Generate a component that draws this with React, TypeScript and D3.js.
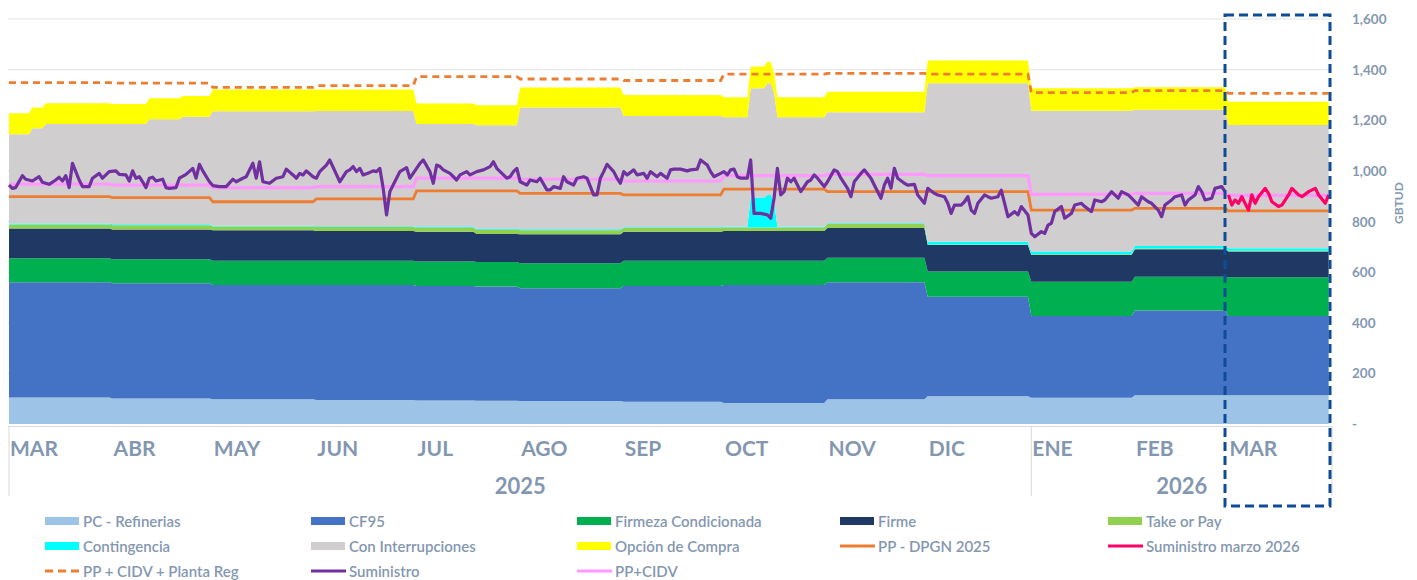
import React from "react";
import * as d3 from "d3";

// ---------- DATA ----------
const periodStarts = [
  "2025-03-01", "2025-03-08", "2025-03-12", "2025-04-01", "2025-04-12", "2025-04-22",
  "2025-05-01", "2025-06-01", "2025-07-01", "2025-07-19", "2025-08-01", "2025-09-01",
  "2025-10-01", "2025-10-09", "2025-10-14", "2025-10-16", "2025-10-17", "2025-11-01",
  "2025-12-01", "2026-01-01", "2026-02-01", "2026-03-01",
];
const lastDay = "2026-03-31";

const pcRefinerias = [105, 105, 105, 101, 101, 101, 98, 95, 93, 92, 91, 88, 83, 83, 83, 83, 83, 98, 110, 104, 114, 114];
const cf95 = [455, 455, 455, 455, 455, 455, 451, 454, 452, 451, 445, 457, 466, 466, 466, 466, 466, 462, 393, 323, 334, 313];
const firmezaCondicionada = [95, 95, 95, 95, 95, 95, 96, 96, 97, 97, 99, 100, 96, 96, 96, 96, 96, 97, 99, 135, 134, 153];
const firme = [117, 117, 117, 117, 117, 117, 120, 117, 118, 111, 115, 115, 117, 117, 117, 117, 117, 117, 105, 106, 108, 101];
const takeOrPay = [16, 16, 16, 17, 17, 17, 15, 16, 15, 16, 15, 14, 14, 14, 14, 14, 14, 16, 2, 3, 3, 3];
const contingencia = [4, 4, 4, 4, 4, 4, 3, 3, 3, 3, 4, 3, 3, 119, 129, 104, 3, 3, 11, 10, 10, 10];
const conInterrupciones = [353, 376, 393, 396, 415, 425, 453, 456, 407, 410, 481, 440, 433, 431, 441, 430, 433, 439, 626, 557, 538, 487];
const opcionCompra = [83, 82, 82, 79, 83, 82, 85, 84, 81, 79, 79, 83, 79, 86, 85, 75, 79, 81, 90, 88, 89, 92];

const monthStarts = [
  "2025-03-01", "2025-04-01", "2025-05-01", "2025-06-01", "2025-07-01", "2025-08-01", "2025-09-01",
  "2025-10-01", "2025-11-01", "2025-12-01", "2026-01-01", "2026-02-01", "2026-03-01",
];
const monthLabels = ["MAR", "ABR", "MAY", "JUN", "JUL", "AGO", "SEP", "OCT", "NOV", "DIC", "ENE", "FEB", "MAR"];

const ppCidvPlantaReg = [1349, 1347, 1330, 1337, 1372, 1363, 1357, 1382, 1385, 1382, 1309, 1317, 1306];
const ppDpgn2025 = [898, 894, 878, 889, 921, 911, 905, 928, 918, 918, 845, 852, 842];
const ppCidv = [948, 944, 934, 938, 971, 967, 960, 981, 986, 981, 907, 911, 903];

const suministro: [string, number][] = [
  ["2025-03-01", 944], ["2025-03-02", 931], ["2025-03-03", 934], ["2025-03-05", 981], ["2025-03-06", 967],
  ["2025-03-08", 960], ["2025-03-10", 977], ["2025-03-11", 955], ["2025-03-13", 947], ["2025-03-15", 964],
  ["2025-03-16", 975], ["2025-03-17", 960], ["2025-03-18", 981], ["2025-03-19", 934], ["2025-03-20", 1030],
  ["2025-03-22", 964], ["2025-03-23", 938], ["2025-03-25", 938], ["2025-03-26", 971], ["2025-03-28", 990],
  ["2025-03-29", 971], ["2025-03-31", 997],
  ["2025-04-02", 1000], ["2025-04-03", 986], ["2025-04-05", 984], ["2025-04-06", 960], ["2025-04-07", 1000],
  ["2025-04-08", 971], ["2025-04-09", 977], ["2025-04-10", 957], ["2025-04-11", 934], ["2025-04-12", 971],
  ["2025-04-13", 975], ["2025-04-14", 960], ["2025-04-16", 967], ["2025-04-17", 934], ["2025-04-18", 931],
  ["2025-04-20", 934], ["2025-04-21", 971], ["2025-04-23", 986], ["2025-04-25", 1010], ["2025-04-26", 971],
  ["2025-04-27", 1026], ["2025-04-28", 1000], ["2025-04-30", 957],
  ["2025-05-01", 942], ["2025-05-03", 938], ["2025-05-05", 938], ["2025-05-07", 967], ["2025-05-08", 957],
  ["2025-05-10", 971], ["2025-05-11", 977], ["2025-05-13", 1030], ["2025-05-14", 971], ["2025-05-15", 1036],
  ["2025-05-16", 957], ["2025-05-18", 951], ["2025-05-20", 971], ["2025-05-22", 977], ["2025-05-23", 1007],
  ["2025-05-25", 984], ["2025-05-26", 971], ["2025-05-27", 990], ["2025-05-28", 984], ["2025-05-29", 1000],
  ["2025-05-31", 977],
  ["2025-06-01", 971], ["2025-06-02", 997], ["2025-06-04", 1023], ["2025-06-05", 1043], ["2025-06-07", 986],
  ["2025-06-08", 957], ["2025-06-10", 997], ["2025-06-11", 1004], ["2025-06-12", 1017], ["2025-06-13", 997],
  ["2025-06-14", 1010], ["2025-06-15", 984], ["2025-06-17", 994], ["2025-06-18", 1000], ["2025-06-19", 997],
  ["2025-06-20", 1010], ["2025-06-21", 931], ["2025-06-22", 826], ["2025-06-23", 918], ["2025-06-25", 971],
  ["2025-06-26", 997], ["2025-06-28", 1013], ["2025-06-29", 971],
  ["2025-07-01", 1010], ["2025-07-02", 1030], ["2025-07-03", 1043], ["2025-07-05", 997], ["2025-07-06", 951],
  ["2025-07-07", 1023], ["2025-07-08", 1017], ["2025-07-09", 1004], ["2025-07-11", 990], ["2025-07-13", 964],
  ["2025-07-14", 984], ["2025-07-16", 997], ["2025-07-17", 984], ["2025-07-19", 997], ["2025-07-21", 1004],
  ["2025-07-23", 1017], ["2025-07-24", 1036], ["2025-07-25", 1010], ["2025-07-26", 997], ["2025-07-28", 971],
  ["2025-07-29", 977], ["2025-07-30", 997], ["2025-07-31", 1010],
  ["2025-08-01", 957], ["2025-08-03", 944], ["2025-08-04", 964], ["2025-08-06", 957], ["2025-08-07", 971],
  ["2025-08-09", 925], ["2025-08-10", 925], ["2025-08-11", 938], ["2025-08-13", 931], ["2025-08-14", 977],
  ["2025-08-15", 957], ["2025-08-17", 944], ["2025-08-18", 971], ["2025-08-20", 977], ["2025-08-21", 971],
  ["2025-08-23", 905], ["2025-08-24", 905], ["2025-08-25", 971], ["2025-08-26", 997], ["2025-08-27", 1026],
  ["2025-08-29", 997], ["2025-08-30", 971], ["2025-08-31", 951],
  ["2025-09-01", 997], ["2025-09-02", 984], ["2025-09-04", 1004], ["2025-09-05", 984], ["2025-09-07", 990],
  ["2025-09-08", 971], ["2025-09-09", 997], ["2025-09-11", 977], ["2025-09-12", 990], ["2025-09-14", 971],
  ["2025-09-15", 1004], ["2025-09-16", 1007], ["2025-09-18", 1007], ["2025-09-20", 1000], ["2025-09-21", 1004],
  ["2025-09-23", 1007], ["2025-09-24", 1043], ["2025-09-26", 1023], ["2025-09-27", 997], ["2025-09-28", 977],
  ["2025-09-30", 990],
  ["2025-10-01", 997], ["2025-10-02", 984], ["2025-10-03", 1004], ["2025-10-04", 1007], ["2025-10-05", 977],
  ["2025-10-06", 971], ["2025-10-08", 971], ["2025-10-09", 1043], ["2025-10-10", 832], ["2025-10-12", 832],
  ["2025-10-14", 826], ["2025-10-15", 813], ["2025-10-16", 892], ["2025-10-17", 1010], ["2025-10-18", 905],
  ["2025-10-19", 918], ["2025-10-20", 971], ["2025-10-21", 957], ["2025-10-22", 971], ["2025-10-23", 944],
  ["2025-10-24", 918], ["2025-10-26", 957], ["2025-10-27", 964], ["2025-10-28", 984], ["2025-10-29", 971],
  ["2025-10-31", 938],
  ["2025-11-01", 957], ["2025-11-03", 1004], ["2025-11-04", 997], ["2025-11-05", 971], ["2025-11-07", 931],
  ["2025-11-08", 898], ["2025-11-09", 957], ["2025-11-11", 990], ["2025-11-12", 1004], ["2025-11-14", 971],
  ["2025-11-15", 944], ["2025-11-17", 892], ["2025-11-18", 944], ["2025-11-19", 971], ["2025-11-20", 931],
  ["2025-11-21", 1010], ["2025-11-22", 971], ["2025-11-24", 951], ["2025-11-25", 944], ["2025-11-27", 947],
  ["2025-11-28", 905], ["2025-11-30", 872],
  ["2025-12-01", 931], ["2025-12-03", 911], ["2025-12-04", 905], ["2025-12-06", 898], ["2025-12-07", 872],
  ["2025-12-08", 832], ["2025-12-09", 865], ["2025-12-11", 865], ["2025-12-12", 878], ["2025-12-13", 898],
  ["2025-12-14", 845], ["2025-12-15", 832], ["2025-12-16", 872], ["2025-12-18", 905], ["2025-12-19", 898],
  ["2025-12-20", 892], ["2025-12-22", 898], ["2025-12-23", 924], ["2025-12-24", 872], ["2025-12-25", 819],
  ["2025-12-27", 839], ["2025-12-28", 826], ["2025-12-29", 859], ["2025-12-31", 826],
  ["2026-01-01", 753], ["2026-01-02", 740], ["2026-01-04", 760], ["2026-01-05", 753], ["2026-01-06", 786],
  ["2026-01-07", 793], ["2026-01-08", 839], ["2026-01-10", 859], ["2026-01-11", 813], ["2026-01-13", 832],
  ["2026-01-14", 865], ["2026-01-16", 872], ["2026-01-17", 859], ["2026-01-19", 839], ["2026-01-20", 885],
  ["2026-01-22", 878], ["2026-01-23", 885], ["2026-01-25", 918], ["2026-01-26", 905], ["2026-01-27", 892],
  ["2026-01-28", 918], ["2026-01-30", 905], ["2026-01-31", 892],
  ["2026-02-02", 865], ["2026-02-03", 898], ["2026-02-05", 878], ["2026-02-06", 872], ["2026-02-08", 845],
  ["2026-02-09", 819], ["2026-02-10", 865], ["2026-02-12", 885], ["2026-02-13", 898], ["2026-02-15", 905],
  ["2026-02-16", 865], ["2026-02-17", 885], ["2026-02-19", 905], ["2026-02-20", 938], ["2026-02-21", 918],
  ["2026-02-22", 885], ["2026-02-24", 892], ["2026-02-25", 931], ["2026-02-27", 938], ["2026-02-28", 918],
];

const suministroMarzo2026: [string, number][] = [
  ["2026-03-01", 905], ["2026-03-02", 865], ["2026-03-03", 885], ["2026-03-04", 872], ["2026-03-05", 898],
  ["2026-03-07", 845], ["2026-03-08", 905], ["2026-03-09", 872], ["2026-03-10", 898], ["2026-03-12", 931],
  ["2026-03-13", 911], ["2026-03-14", 878], ["2026-03-16", 859], ["2026-03-17", 865], ["2026-03-19", 905],
  ["2026-03-20", 931], ["2026-03-22", 905], ["2026-03-23", 898], ["2026-03-25", 918], ["2026-03-27", 931],
  ["2026-03-28", 905], ["2026-03-30", 872], ["2026-03-31", 905],
];

const yTicks = [0, 200, 400, 600, 800, 1000, 1200, 1400, 1600];
const yearGroups = [
  { label: "2025", start: "2025-03-01", end: "2026-01-01" },
  { label: "2026", start: "2026-01-01", end: "2026-04-01" },
];

// ---------- STYLE ----------
const W = 1417;
const H = 580;
const TXT = "#8497b0";
const FONT = "Lato, 'Open Sans', 'DejaVu Sans', sans-serif";

const stackKeys = ["pc", "cf95", "fc", "firme", "top", "cont", "inter", "opcion"];
const stackColors: Record<string, string> = {
  pc: "#9dc3e6",
  cf95: "#4472c4",
  fc: "#00b050",
  firme: "#203864",
  top: "#92d050",
  cont: "#00ffff",
  inter: "#d0cece",
  opcion: "#ffff00",
};
const stackSeries: Record<string, number[]> = {
  pc: pcRefinerias,
  cf95: cf95,
  fc: firmezaCondicionada,
  firme: firme,
  top: takeOrPay,
  cont: contingencia,
  inter: conInterrupciones,
  opcion: opcionCompra,
};

const parse = d3.timeParse("%Y-%m-%d") as (s: string) => Date;

function periodRows(starts: string[], end: string) {
  const rows: { date: Date; idx: number }[] = [];
  starts.forEach((s, i) => {
    const d0 = parse(s);
    const d1 = i < starts.length - 1 ? d3.timeDay.offset(parse(starts[i + 1]), -1) : parse(end);
    rows.push({ date: d0, idx: i });
    rows.push({ date: d1, idx: i });
  });
  return rows;
}

export default function App() {
  const x = d3.scaleTime().domain([parse("2025-03-01"), parse("2026-04-01")]).range([9, 1332]);
  const y = d3.scaleLinear().domain([0, 1600]).range([424, 19]);

  const rows = periodRows(periodStarts, lastDay).map((r) => {
    const o: any = { date: r.date };
    stackKeys.forEach((k) => (o[k] = stackSeries[k][r.idx]));
    return o;
  });
  const stacked = d3.stack<any>().keys(stackKeys)(rows);
  const area = d3
    .area<any>()
    .x((d) => x(d.data.date))
    .y0((d) => y(d[0]))
    .y1((d) => y(d[1]));

  const monthRows = periodRows(monthStarts, lastDay);
  const stepLine = (vals: number[]) =>
    d3
      .line<{ date: Date; idx: number }>()
      .x((d) => x(d.date))
      .y((d) => y(vals[d.idx]))(monthRows) || "";

  const ptLine = d3
    .line<[string, number]>()
    .x((d) => x(parse(d[0])))
    .y((d) => y(d[1]));

  const legendCols = [45, 311, 577, 840, 1108];
  const legendRows = [521, 546, 571];
  const legend: { label: string; type: string; color: string }[][] = [
    [
      { label: "PC - Refinerias", type: "area", color: stackColors.pc },
      { label: "CF95", type: "area", color: stackColors.cf95 },
      { label: "Firmeza Condicionada", type: "area", color: stackColors.fc },
      { label: "Firme", type: "area", color: stackColors.firme },
      { label: "Take or Pay", type: "area", color: stackColors.top },
    ],
    [
      { label: "Contingencia", type: "area", color: stackColors.cont },
      { label: "Con Interrupciones", type: "area", color: stackColors.inter },
      { label: "Opción de Compra", type: "area", color: stackColors.opcion },
      { label: "PP - DPGN 2025", type: "line", color: "#ed7d31" },
      { label: "Suministro marzo 2026", type: "line", color: "#ff0066" },
    ],
    [
      { label: "PP + CIDV + Planta Reg", type: "dash", color: "#ed7d31" },
      { label: "Suministro", type: "line", color: "#7030a0" },
      { label: "PP+CIDV", type: "line", color: "#ff99ff" },
    ],
  ];

  const yearDivs = [parse("2025-03-01"), parse("2026-01-01"), parse("2026-04-01")];

  return (
    <svg
      width={W}
      height={H}
      style={{ position: "absolute", left: 0, top: 0, background: "#fff" }}
      fontFamily={FONT}
    >
      {/* gridlines */}
      {yTicks.slice(1).map((t) => (
        <line key={t} x1={8} x2={1332} y1={y(t)} y2={y(t)} stroke="#e3e3e3" strokeWidth={1} />
      ))}

      {/* stacked areas */}
      {stacked.map((s) => (
        <path key={s.key} d={area(s) || ""} fill={stackColors[s.key]} />
      ))}

      {/* step lines */}
      <path d={stepLine(ppDpgn2025)} fill="none" stroke="#ed7d31" strokeWidth={2.8} />
      <path d={stepLine(ppCidv)} fill="none" stroke="#ff99ff" strokeWidth={3.2} />
      <path
        d={stepLine(ppCidvPlantaReg)}
        fill="none"
        stroke="#ed7d31"
        strokeWidth={2.8}
        strokeDasharray="7 5"
      />

      {/* supply lines */}
      <path d={ptLine(suministro) || ""} fill="none" stroke="#7030a0" strokeWidth={3.2} strokeLinejoin="round" />
      <path
        d={ptLine(suministroMarzo2026) || ""}
        fill="none"
        stroke="#ff0066"
        strokeWidth={3.2}
        strokeLinejoin="round"
      />

      {/* bottom axis */}
      <line x1={8} x2={1332} y1={426.5} y2={426.5} stroke="#d9d9d9" strokeWidth={1} />
      {yearDivs.map((d, i) => (
        <line key={i} x1={x(d)} x2={x(d)} y1={426} y2={496} stroke="#d9d9d9" strokeWidth={1} />
      ))}
      {monthStarts.map((m, i) => (
        <text
          key={m}
          x={x(parse(m)) + 1}
          y={456}
          fill={TXT}
          fontSize={21}
          fontWeight={700}
        >
          {monthLabels[i]}
        </text>
      ))}
      {yearGroups.map((g) => (
        <text
          key={g.label}
          x={(x(parse(g.start)) + x(parse(g.end))) / 2}
          y={494}
          fill={TXT}
          fontSize={22}
          fontWeight={700}
          textAnchor="middle"
        >
          {g.label}
        </text>
      ))}

      {/* y axis labels */}
      {yTicks.map((t) => (
        <text key={t} x={1352} y={y(t) + 5} fill={TXT} fontSize={13.5} fontWeight={700}>
          {t === 0 ? "-" : d3.format(",")(t)}
        </text>
      ))}
      <text
        transform={`translate(1403,203) rotate(-90)`}
        textAnchor="middle"
        fill={TXT}
        fontSize={12}
        fontWeight={700}
      >
        GBTUD
      </text>

      {/* highlight box */}
      <rect
        x={1225}
        y={15}
        width={105}
        height={491}
        fill="none"
        stroke="#0f4c97"
        strokeWidth={3}
        strokeDasharray="9 5"
      />

      {/* legend */}
      {legend.map((row, ri) =>
        row.map((it, ci) => {
          const lx = legendCols[ci];
          const ly = legendRows[ri];
          return (
            <g key={it.label}>
              {it.type === "area" && <rect x={lx} y={ly - 4} width={34} height={8} fill={it.color} />}
              {it.type === "line" && (
                <line x1={lx} x2={lx + 35} y1={ly} y2={ly} stroke={it.color} strokeWidth={3} />
              )}
              {it.type === "dash" && (
                <line
                  x1={lx}
                  x2={lx + 35}
                  y1={ly}
                  y2={ly}
                  stroke={it.color}
                  strokeWidth={3}
                  strokeDasharray="8 5"
                />
              )}
              <text x={lx + 38} y={ly + 5.5} fill={TXT} fontSize={15} fontWeight={600}>
                {it.label}
              </text>
            </g>
          );
        })
      )}
    </svg>
  );
}
